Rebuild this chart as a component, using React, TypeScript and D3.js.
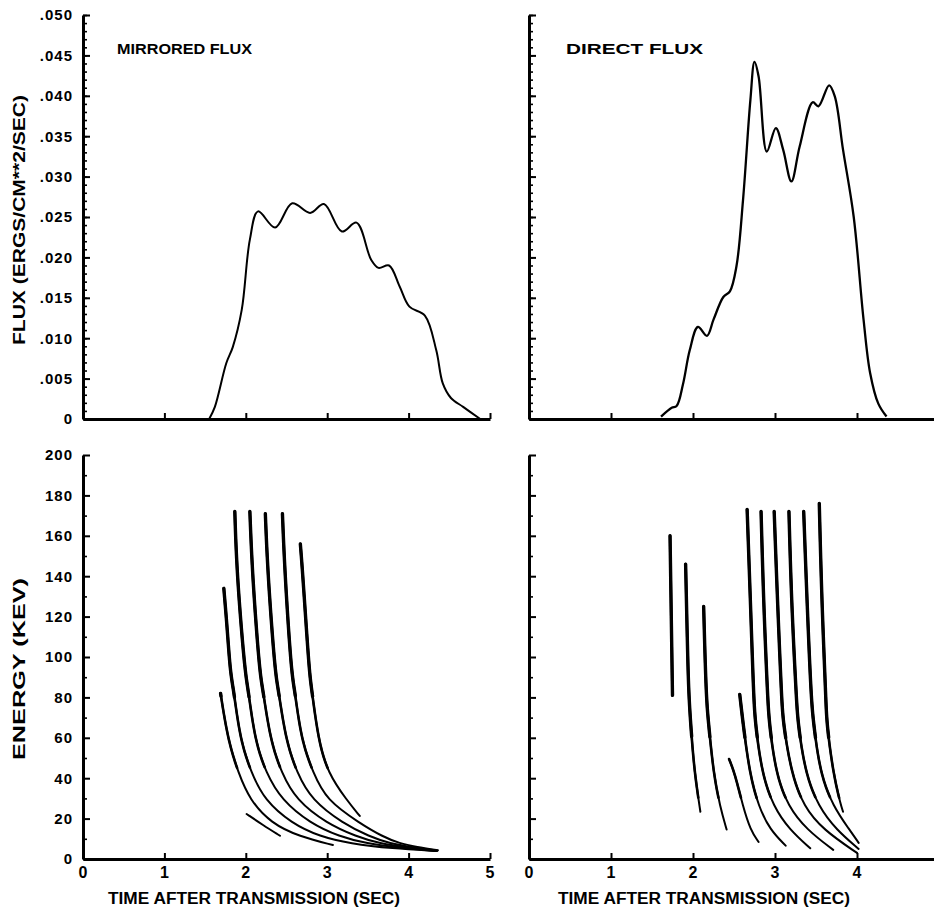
import * as d3 from 'd3'
import { useEffect, useRef } from 'react'

type Pt = [number, number]

// axis ticks
const timeTicks = [0, 1, 2, 3, 4, 5]
const fluxMajor = [0, 0.005, 0.01, 0.015, 0.02, 0.025, 0.03, 0.035, 0.04, 0.045, 0.05]
const fluxMinor = d3.range(0, 51).map(i => i / 1000)
const energyMajor = [0, 20, 40, 60, 80, 100, 120, 140, 160, 180, 200]
const energyMinor = [10, 30, 50, 70, 90, 110, 130, 150, 170, 190]

// flux vs time (sec, ergs/cm^2/sec)
const mirroredFlux: Pt[] = [
  [1.55, 0], [1.62, 0.0015], [1.76, 0.0069], [1.84, 0.0089], [1.95, 0.0135],
  [2.05, 0.0222], [2.15, 0.0257], [2.36, 0.0237], [2.57, 0.0267], [2.79, 0.0255],
  [2.96, 0.0266], [3.18, 0.0232], [3.36, 0.0243], [3.54, 0.0197], [3.63, 0.0187],
  [3.76, 0.019], [3.89, 0.0164], [4.01, 0.0139], [4.2, 0.0128], [4.34, 0.0085],
  [4.42, 0.0044], [4.52, 0.0026], [4.67, 0.0015], [4.88, 0]
]

const directFlux: Pt[] = [
  [1.61, 0.0003], [1.74, 0.0014], [1.8, 0.0016], [1.88, 0.0044], [1.96, 0.0085],
  [2.06, 0.0114], [2.17, 0.0103], [2.25, 0.0123], [2.37, 0.0151], [2.45, 0.0158],
  [2.53, 0.0189], [2.61, 0.0271], [2.7, 0.0395], [2.75, 0.0442], [2.8, 0.0424],
  [2.9, 0.0331], [3.01, 0.036], [3.1, 0.0333], [3.2, 0.0294], [3.3, 0.0337],
  [3.46, 0.0392], [3.53, 0.0387], [3.66, 0.0413], [3.73, 0.0399], [3.83, 0.0333],
  [3.96, 0.025], [4.08, 0.0123], [4.16, 0.0057], [4.26, 0.0019], [4.36, 0.0003]
]

// energy (keV) vs time, one list per dispersion trace
const mirroredEnergy: Pt[][] = [
  [[1.69, 82], [1.78, 59], [1.91, 42.4], [2.05, 29.2], [2.31, 17.7], [2.66, 11.1], [3.07, 6.9]],
  [[1.73, 134], [1.77, 115], [1.81, 92], [1.85, 84], [1.93, 59], [2.07, 42.4], [2.23, 29.2], [2.56, 17.7], [2.91, 11.1], [3.28, 7.7], [3.8, 5.2], [4.33, 4]],
  [[1.865, 172], [1.89, 141], [1.99, 92], [2.03, 84], [2.11, 59], [2.25, 42.4], [2.44, 29.2], [2.79, 17.7], [3.15, 11.1], [3.48, 7.7], [3.9, 5.5], [4.34, 4]],
  [[2.05, 172], [2.08, 141], [2.17, 92], [2.21, 84], [2.3, 59], [2.44, 42.4], [2.62, 29.2], [2.99, 17.7], [3.36, 11.1], [3.64, 7.7], [4.0, 5.5], [4.35, 4]],
  [[2.24, 171], [2.27, 141], [2.36, 92], [2.4, 84], [2.49, 59], [2.63, 42.4], [2.81, 29.2], [3.19, 17.7], [3.52, 11.1], [3.77, 7.7], [4.05, 5.8], [4.35, 4.2]],
  [[2.45, 171], [2.48, 141], [2.56, 92], [2.6, 84], [2.68, 59], [2.83, 42.4], [2.99, 29.2], [3.4, 17.7], [3.68, 11.1], [3.89, 7.7], [4.1, 6], [4.36, 4.3]],
  [[2.67, 156], [2.7, 141], [2.78, 92], [2.81, 84], [2.89, 59], [3.01, 42.4], [3.24, 29.2], [3.4, 21.3]],
  [[2.01, 22.3], [2.21, 16.8], [2.42, 11.5]]
]

const directEnergy: Pt[][] = [
  [[1.72, 160], [1.735, 120], [1.75, 81]],
  [[1.91, 146], [1.935, 100], [1.95, 80], [1.98, 62], [2.02, 42.4], [2.09, 23.4]],
  [[2.13, 125], [2.16, 80], [2.19, 67], [2.25, 42.4], [2.33, 25.9], [2.41, 14.6]],
  [[2.44, 49.5], [2.51, 42.4], [2.61, 25.9], [2.7, 14.4], [2.8, 8.4]],
  [[2.57, 81.5], [2.61, 67.2], [2.69, 42.4], [2.8, 25.9], [2.94, 14.4], [3.13, 6.6]],
  [[2.66, 173], [2.7, 128], [2.74, 80], [2.76, 67], [2.84, 42.4], [2.98, 25.9], [3.18, 14.4], [3.43, 5.3]],
  [[2.83, 172], [2.86, 128], [2.91, 80], [2.93, 67], [3.01, 42.4], [3.16, 25.9], [3.39, 14.4], [3.71, 4.5]],
  [[2.99, 172], [3.03, 128], [3.08, 80], [3.1, 67], [3.2, 42.4], [3.35, 25.9], [3.59, 14.4], [4.0, 3]],
  [[3.17, 172], [3.2, 128], [3.26, 80], [3.28, 67], [3.37, 42.4], [3.53, 25.9], [3.75, 14.4], [4.02, 5]],
  [[3.35, 172], [3.39, 128], [3.44, 80], [3.47, 67], [3.55, 42.4], [3.71, 25.9], [3.91, 14.4], [4.02, 8]],
  [[3.54, 176], [3.57, 128], [3.62, 80], [3.63, 67], [3.71, 42.4], [3.8, 27], [3.83, 23.4]]
]

const W = 934
const H = 911
const FONT = "'Liberation Sans', Arial, sans-serif"

export default function App() {
  const ref = useRef<SVGSVGElement>(null)

  useEffect(() => {
    const svg = d3.select(ref.current)
    svg.selectAll('*').remove()

    const xLeft = d3.scaleLinear().domain([0, 5]).range([83, 490])
    const xRight = d3.scaleLinear().domain([0, 5]).range([529, 939])
    const yFlux = d3.scaleLinear().domain([0, 0.05]).range([419, 15])
    const yEnergy = d3.scaleLinear().domain([0, 200]).range([859, 455])

    const fluxFmt = (d: number) => (d === 0 ? '0' : d3.format('.3f')(d).replace(/^0/, ''))

    const styleAxis = (g: any, fontSize: number) => {
      g.select('.domain').attr('stroke', '#000').attr('stroke-width', 3)
      g.selectAll('.tick line').attr('stroke', '#000').attr('stroke-width', 2)
      g.selectAll('.tick text')
        .attr('fill', '#000')
        .style('font-family', FONT)
        .style('font-weight', 'bold')
        .style('font-size', `${fontSize}px`)
        .style('letter-spacing', '1px')
    }

    const panel = (
      x: d3.ScaleLinear<number, number>,
      y: d3.ScaleLinear<number, number>,
      major: number[],
      minor: number[],
      yFmt: ((d: number) => string) | null,
      xLabels: boolean
    ) => {
      const y0 = y.range()[0]
      const x0 = x.range()[0]

      // minor y ticks
      const gm = svg.append('g').attr('transform', `translate(${x0},0)`)
        .call(d3.axisLeft(y).tickValues(minor).tickSize(-4).tickSizeOuter(0).tickFormat(() => ''))
      gm.select('.domain').remove()
      gm.selectAll('.tick line').attr('stroke', '#000').attr('stroke-width', 1.6)

      // major y ticks
      const gy = svg.append('g').attr('transform', `translate(${x0},0)`)
        .call(d3.axisLeft(y).tickValues(major).tickSize(-7).tickSizeOuter(0).tickPadding(10)
          .tickFormat(yFmt ? (d: any) => yFmt(d) : () => ''))
      styleAxis(gy, 15)

      // x axis
      const gx = svg.append('g').attr('transform', `translate(0,${y0})`)
        .call(d3.axisBottom(x).tickValues(xLabels ? timeTicks : timeTicks.slice(1))
          .tickSize(-6).tickSizeOuter(0).tickPadding(8)
          .tickFormat(xLabels ? d3.format('d') : () => ''))
      styleAxis(gx, 16)
    }

    panel(xLeft, yFlux, fluxMajor, fluxMinor, fluxFmt, false)
    panel(xRight, yFlux, fluxMajor, fluxMinor, null, false)
    panel(xLeft, yEnergy, energyMajor, energyMinor, d3.format('d'), true)
    panel(xRight, yEnergy, energyMajor, energyMinor, null, true)

    // flux traces
    const fluxLine = (x: d3.ScaleLinear<number, number>) =>
      d3.line<Pt>().x(d => x(d[0])).y(d => yFlux(d[1])).curve(d3.curveCatmullRom.alpha(0.5))

    svg.append('path').attr('d', fluxLine(xLeft)(mirroredFlux))
      .attr('fill', 'none').attr('stroke', '#000').attr('stroke-width', 2)
    svg.append('path').attr('d', fluxLine(xRight)(directFlux))
      .attr('fill', 'none').attr('stroke', '#000').attr('stroke-width', 2.3)

    // energy traces: smooth thin trace, heavier where the energy is high
    const drawTraces = (x: d3.ScaleLinear<number, number>, traces: Pt[][], cuts: number[]) => {
      const line = d3.line<Pt>().x(d => x(d[0])).y(d => yEnergy(d[1])).curve(d3.curveBasis)
      const poly = d3.line<[number, number]>()
      traces.forEach(tr => {
        const p = svg.append('path').attr('d', line(tr))
          .attr('fill', 'none').attr('stroke', '#000').attr('stroke-width', 2)
          .attr('stroke-linecap', 'round')
        const node = p.node() as SVGPathElement
        const len = node.getTotalLength()
        const samples: [number, number][] = d3.range(0, len + 1, 1.5).map(l => {
          const q = node.getPointAtLength(Math.min(l, len))
          return [q.x, q.y]
        })
        cuts.forEach((cut, i) => {
          const seg = samples.filter(s => yEnergy.invert(s[1]) >= cut)
          if (seg.length > 1) {
            svg.append('path').attr('d', poly(seg))
              .attr('fill', 'none').attr('stroke', '#000')
              .attr('stroke-width', 2.6 + i * 0.8)
              .attr('stroke-linecap', 'round')
          }
        })
      })
    }
    drawTraces(xLeft, mirroredEnergy, [45, 80])
    drawTraces(xRight, directEnergy, [30, 60])

    // text labels
    const label = (txt: string, x: number, y: number, size: number, len: number, anchor: string, rotate = false) => {
      const t = svg.append('text')
        .attr('text-anchor', anchor)
        .attr('fill', '#000')
        .style('font-family', FONT)
        .style('font-weight', 'bold')
        .style('font-size', `${size}px`)
        .attr('textLength', len)
        .attr('lengthAdjust', 'spacingAndGlyphs')
        .text(txt)
      if (rotate) t.attr('transform', `translate(${x},${y}) rotate(-90)`)
      else t.attr('x', x).attr('y', y)
    }

    label('MIRRORED FLUX', 117, 54, 15, 135, 'start')
    label('DIRECT FLUX', 566, 54, 15, 137, 'start')
    label('FLUX (ERGS/CM**2/SEC)', 25, 220, 16, 250, 'middle', true)
    label('ENERGY (KEV)', 25, 669, 16, 182, 'middle', true)
    label('TIME AFTER TRANSMISSION (SEC)', 254, 904, 16, 292, 'middle')
    label('TIME AFTER TRANSMISSION (SEC)', 704, 904, 16, 292, 'middle')
  }, [])

  return (
    <>
      <style>{'body{margin:0;background:#fff}'}</style>
      <svg ref={ref} width={W} height={H} style={{ display: 'block', background: '#fff' }} />
    </>
  )
}
